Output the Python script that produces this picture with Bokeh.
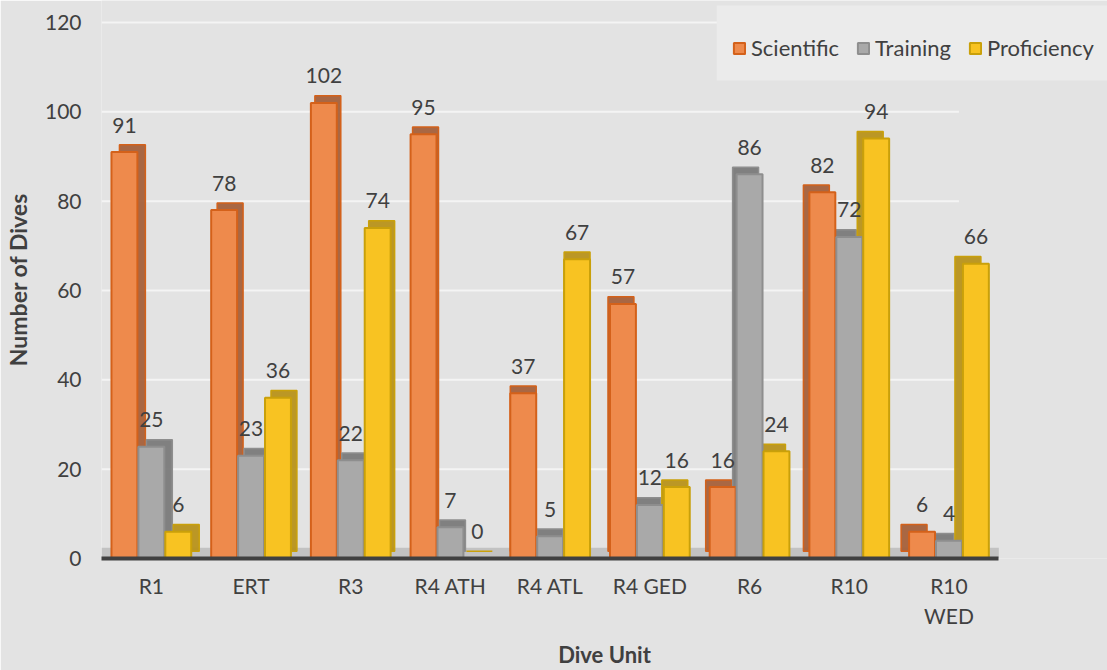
from bokeh.plotting import figure
from bokeh.models import (ColumnDataSource, Legend, LegendItem, BoxAnnotation,
                          LabelSet, Range1d, FixedTicker)
from bokeh.core.properties import value
from bokeh.embed import file_html
from bokeh.resources import INLINE

# ---- data ----
units = ["R1", "ERT", "R3", "R4 ATH", "R4 ATL", "R4 GED", "R6", "R10", "R10\nWED"]
scientific = [91, 78, 102, 95, 37, 57, 16, 82, 6]
training = [25, 23, 22, 7, 5, 12, 86, 72, 4]
proficiency = [6, 36, 74, 0, 67, 16, 24, 94, 66]
series_names = ["Scientific", "Training", "Proficiency"]
y_ticks = [0, 20, 40, 60, 80, 100, 120]

FONT = "Lato"
TXT = "#404040"
BG = "#e3e3e3"
FS = "21px"

pos = list(range(len(units)))
n = len(units)
series_vals = [scientific, training, proficiency]
offsets = [-0.27, 0.0, 0.27]
front_fill = ["#EE8A4C", "#A9A9A9", "#F8C322"]
front_line = ["#D4611A", "#8E8E8E", "#C9A00A"]
side_fill = ["#A5603A", "#7A7A7A", "#B8921A"]
bar_w = 0.26
depth_x = 0.08   # x-units
depth_y = 1.6    # y-units

X_END = 9.59
Y_END = 124.92
p = figure(width=1107, height=670, output_backend="svg", toolbar_location=None,
           x_range=Range1d(-0.5, X_END), y_range=Range1d(0, Y_END),
           min_border_left=98, min_border_right=0, min_border_top=0,
           min_border_bottom=111)
p.background_fill_color = BG
p.border_fill_color = BG
p.outline_line_color = None

# gridlines (limited to the category area)
p.segment(x0=[-0.5] * len(y_ticks[1:]), x1=[n - 0.9] * len(y_ticks[1:]),
          y0=y_ticks[1:], y1=y_ticks[1:], line_color="#f4f4f4", line_width=2,
          level="underlay")

# floor
p.add_layout(BoxAnnotation(bottom=0, top=2.4, left=-0.5, right=n - 0.5,
                           fill_color="#c2c2c2", fill_alpha=1,
                           line_color=None, level="underlay"))

srcs = []
for k, vals in enumerate(series_vals):
    xs = [i + offsets[k] for i in pos]
    side_xs = [x + depth_x * (4 - i) / 4 for x, i in zip(xs, pos)]
    src = ColumnDataSource(dict(x=xs, sx=side_xs, v=vals,
                                st=[v + depth_y for v in vals],
                                sb=[depth_y for _ in vals],
                                lbl=[str(v) for v in vals]))
    srcs.append(src)

for k, src in enumerate(srcs):
    p.vbar(x="sx", top="st", bottom="sb", width=bar_w, source=src,
           fill_color=side_fill[k], line_color=front_line[k], line_width=1.5,
           fill_alpha=0.95)

items = []
for k, src in enumerate(srcs):
    r = p.vbar(x="x", top="v", bottom=0, width=bar_w, source=src,
               fill_color=front_fill[k], line_color=front_line[k], line_width=2)
    items.append(LegendItem(label=series_names[k], renderers=[r]))
    p.add_layout(LabelSet(x="x", y="v", text="lbl", source=src, y_offset=27,
                          text_align="center", text_baseline="middle",
                          text_font=value(FONT), text_font_size=value(FS),
                          text_color=value(TXT)))

# legend panel background
p.add_layout(BoxAnnotation(left=5.67, right=X_END, bottom=107.0, top=123.8,
                           fill_color="#ebebeb", fill_alpha=1, line_color=None))

legend = Legend(items=items, orientation="horizontal", location=(631, 497),
                background_fill_alpha=0, border_line_color=None,
                label_text_font=FONT, label_text_font_size="22px",
                label_text_color=TXT, glyph_width=14, glyph_height=14,
                label_standoff=5, spacing=17, padding=19, margin=0)
p.add_layout(legend, "center")

# axes
p.xaxis.ticker = FixedTicker(ticks=pos)
p.xaxis.bounds = (-0.5, n - 0.5)
p.xaxis.major_label_overrides = {i: u for i, u in enumerate(units)}
p.xaxis.axis_line_color = "#404040"
p.xaxis.axis_line_width = 4
p.xaxis.major_tick_line_color = None
p.xaxis.minor_tick_line_color = None
p.xaxis.major_tick_out = 0
p.xaxis.major_label_standoff = 14
p.xaxis.major_label_text_font = FONT
p.xaxis.major_label_text_font_size = FS
p.xaxis.major_label_text_color = TXT
p.xaxis.axis_label = "Dive Unit"
p.xaxis.axis_label_text_font = FONT
p.xaxis.axis_label_text_font_style = "bold"
p.xaxis.axis_label_text_font_size = "22px"
p.xaxis.axis_label_text_color = TXT
p.xaxis.axis_label_standoff = 10

p.yaxis.ticker = FixedTicker(ticks=y_ticks)
p.yaxis.axis_line_color = None
p.yaxis.major_tick_line_color = None
p.yaxis.minor_tick_line_color = None
p.yaxis.major_tick_out = 0
p.yaxis.major_label_standoff = 20
p.yaxis.major_label_text_font = FONT
p.yaxis.major_label_text_font_size = FS
p.yaxis.major_label_text_color = TXT
p.yaxis.axis_label = "Number of Dives"
p.yaxis.axis_label_text_font = FONT
p.yaxis.axis_label_text_font_style = "bold"
p.yaxis.axis_label_text_font_size = "23px"
p.yaxis.axis_label_text_color = TXT
p.yaxis.axis_label_standoff = 10

p.xgrid.grid_line_color = None
p.ygrid.grid_line_color = None

open("out.html", "w").write(file_html(p, INLINE))
